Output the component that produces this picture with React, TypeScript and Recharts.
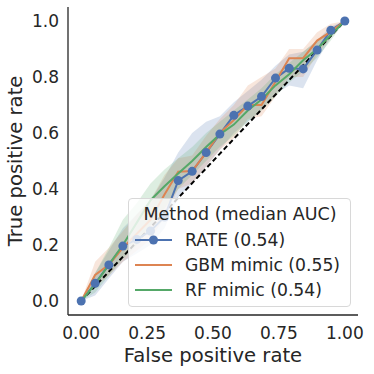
import React from 'react';
import { ComposedChart, Line, Area, XAxis, YAxis, Legend } from 'recharts';

const FPR = [0, 0.053, 0.105, 0.158, 0.211, 0.263, 0.316, 0.368, 0.421, 0.474, 0.526, 0.579, 0.632, 0.684, 0.737, 0.789, 0.842, 0.895, 0.947, 1.0];

const RATE_TPR = [0, 0.063, 0.129, 0.196, 0.22, 0.25, 0.3, 0.43, 0.463, 0.53, 0.596, 0.663, 0.696, 0.73, 0.796, 0.831, 0.829, 0.896, 0.967, 1.0];
const RATE_LO = [0, 0.02, 0.08, 0.14, 0.17, 0.2, 0.26, 0.37, 0.42, 0.48, 0.54, 0.6, 0.64, 0.68, 0.74, 0.77, 0.76, 0.86, 0.94, 1.0];
const RATE_HI = [0, 0.1, 0.18, 0.26, 0.31, 0.36, 0.44, 0.53, 0.6, 0.64, 0.66, 0.71, 0.75, 0.79, 0.84, 0.88, 0.89, 0.93, 0.98, 1.0];

const GBM_TPR = [0, 0.093, 0.129, 0.19, 0.24, 0.29, 0.38, 0.462, 0.464, 0.53, 0.6, 0.646, 0.7, 0.7, 0.783, 0.867, 0.867, 0.93, 0.962, 1.0];
const GBM_LO = [0, 0.05, 0.09, 0.14, 0.18, 0.22, 0.3, 0.4, 0.42, 0.48, 0.54, 0.58, 0.65, 0.66, 0.73, 0.8, 0.8, 0.88, 0.94, 1.0];
const GBM_HI = [0, 0.14, 0.19, 0.25, 0.31, 0.36, 0.45, 0.51, 0.52, 0.59, 0.65, 0.7, 0.77, 0.8, 0.83, 0.9, 0.9, 0.96, 0.99, 1.0];

const RF_TPR = [0, 0.06, 0.13, 0.2, 0.28, 0.36, 0.41, 0.455, 0.5, 0.55, 0.595, 0.63, 0.68, 0.72, 0.77, 0.81, 0.86, 0.9, 0.95, 1.0];
const RF_LO = [0, 0.03, 0.09, 0.15, 0.2, 0.27, 0.33, 0.4, 0.45, 0.5, 0.55, 0.59, 0.64, 0.68, 0.73, 0.78, 0.82, 0.87, 0.93, 1.0];
const RF_HI = [0, 0.1, 0.19, 0.29, 0.35, 0.42, 0.47, 0.51, 0.55, 0.6, 0.64, 0.68, 0.72, 0.76, 0.81, 0.85, 0.89, 0.93, 0.97, 1.0];

const DIAGONAL = [0, 1];
const X_TICKS = [0, 0.25, 0.5, 0.75, 1.0];
const Y_TICKS = [0, 0.2, 0.4, 0.6, 0.8, 1.0];
const SERIES_NAMES = ['RATE (0.54)', 'GBM mimic (0.55)', 'RF mimic (0.54)'];
const LEGEND_TITLE = 'Method (median AUC)';
const X_LABEL = 'False positive rate';
const Y_LABEL = 'True positive rate';

const COLORS = ['#4C72B0', '#DD8452', '#55A868'];
const TEXT = '#262626';
const FONT = 'DejaVu Sans';

const data = FPR.map((x, i) => ({
  x,
  rate: RATE_TPR[i],
  gbm: GBM_TPR[i],
  rf: RF_TPR[i],
  rateBand: [RATE_LO[i], RATE_HI[i]],
  gbmBand: [GBM_LO[i], GBM_HI[i]],
  rfBand: [RF_LO[i], RF_HI[i]],
}));

const diagData = DIAGONAL.map((v) => ({ x: v, diag: v }));

const LegendBox = () => (
  <div
    style={{
      width: 223,
      height: 109,
      boxSizing: 'border-box',
      background: 'rgba(255,255,255,0.8)',
      border: '1px solid #d8d8d8',
      borderRadius: 4,
    }}
  >
    <svg width={221} height={107} style={{ display: 'block' }}>
      <text x={111} y={21} textAnchor="middle" fontSize={17.5} fontFamily={FONT} fill={TEXT}>
        {LEGEND_TITLE}
      </text>
      {SERIES_NAMES.map((name, i) => {
        const cy = 41 + i * 25;
        return (
          <g key={name}>
            <line x1={6} x2={43} y1={cy} y2={cy} stroke={COLORS[i]} strokeWidth={2} />
            {i === 0 && <circle cx={24.5} cy={cy} r={4.5} fill={COLORS[i]} />}
            <text x={56} y={cy + 6} fontSize={17.2} fontFamily={FONT} fill={TEXT}>
              {name}
            </text>
          </g>
        );
      })}
    </svg>
  </div>
);

export default function App() {
  return (
    <div style={{ position: 'absolute', left: 0, top: 0, width: 374, height: 374, background: '#fff' }}>
      <ComposedChart width={374} height={374} data={data} margin={{ top: 7, right: 16, bottom: 0, left: 0 }}>
        <XAxis
          type="number"
          dataKey="x"
          domain={[-0.05, 1.05]}
          ticks={X_TICKS}
          allowDataOverflow
          height={59}
          tickLine={false}
          tickSize={0}
          tickMargin={12}
          axisLine={{ stroke: TEXT, strokeWidth: 1.3 }}
          tickFormatter={(v: number) => v.toFixed(2)}
          tick={{ fill: TEXT, fontSize: 17, fontFamily: FONT }}
          label={{
            content: (props: any) => {
              const vb = props.viewBox;
              return (
                <text x={vb.x + vb.width / 2} y={vb.y + 47} textAnchor="middle" fontSize={19.6} fontFamily={FONT} fill={TEXT}>
                  {X_LABEL}
                </text>
              );
            },
          }}
        />
        <YAxis
          type="number"
          domain={[-0.05, 1.05]}
          ticks={Y_TICKS}
          allowDataOverflow
          width={68}
          tickLine={false}
          tickSize={0}
          tickMargin={9}
          axisLine={{ stroke: TEXT, strokeWidth: 1.3 }}
          tickFormatter={(v: number) => v.toFixed(1)}
          tick={{ fill: TEXT, fontSize: 17, fontFamily: FONT }}
          label={{
            content: (props: any) => {
              const vb = props.viewBox;
              const cx = 22;
              const cy = vb.y + vb.height / 2;
              return (
                <text x={cx} y={cy} transform={`rotate(-90, ${cx}, ${cy})`} textAnchor="middle" fontSize={19.6} fontFamily={FONT} fill={TEXT}>
                  {Y_LABEL}
                </text>
              );
            },
          }}
        />
        <Area dataKey="rateBand" type="linear" stroke="none" fill={COLORS[0]} fillOpacity={0.2} isAnimationActive={false} dot={false} activeDot={false} />
        <Area dataKey="gbmBand" type="linear" stroke="none" fill={COLORS[1]} fillOpacity={0.2} isAnimationActive={false} dot={false} activeDot={false} />
        <Area dataKey="rfBand" type="linear" stroke="none" fill={COLORS[2]} fillOpacity={0.2} isAnimationActive={false} dot={false} activeDot={false} />
        <Line data={diagData} dataKey="diag" type="linear" stroke="#000" strokeWidth={2} strokeDasharray="5 3" dot={false} activeDot={false} isAnimationActive={false} />
        <Line dataKey="rate" type="linear" stroke={COLORS[0]} strokeWidth={2} dot={{ r: 4.5, fill: COLORS[0], stroke: COLORS[0], strokeWidth: 0 }} activeDot={false} isAnimationActive={false} />
        <Line dataKey="gbm" type="linear" stroke={COLORS[1]} strokeWidth={2} dot={false} activeDot={false} isAnimationActive={false} />
        <Line dataKey="rf" type="linear" stroke={COLORS[2]} strokeWidth={2} dot={false} activeDot={false} isAnimationActive={false} />
        <Legend
          layout="horizontal"
          verticalAlign="middle"
          align="center"
          width={223}
          height={109}
          wrapperStyle={{ left: 128, top: 198, width: 223, height: 109 }}
          content={() => <LegendBox />}
        />
      </ComposedChart>
    </div>
  );
}
